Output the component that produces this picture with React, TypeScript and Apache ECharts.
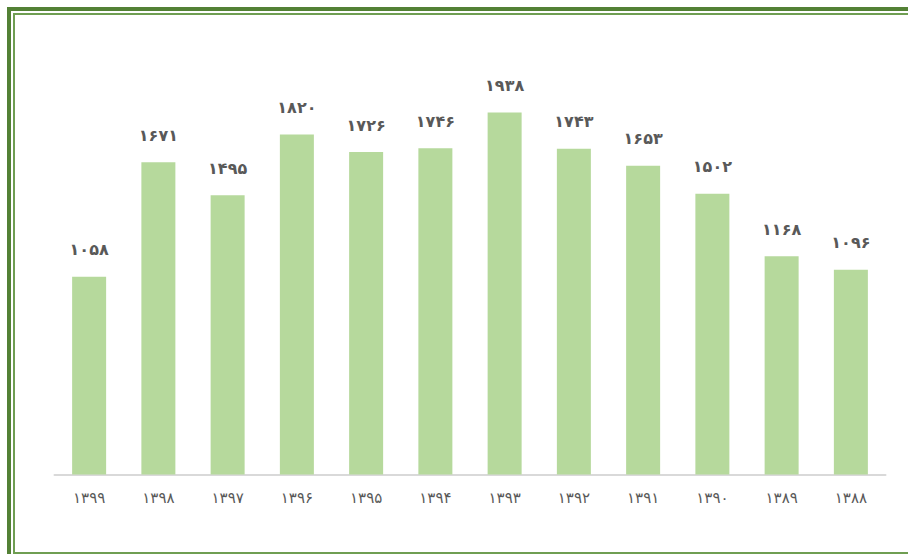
import React, { useEffect, useRef } from "react";
import * as echarts from "echarts";

const categories = ["1399", "1398", "1397", "1396", "1395", "1394", "1393", "1392", "1391", "1390", "1389", "1388"];
const values = [1058, 1671, 1495, 1820, 1726, 1746, 1938, 1743, 1653, 1502, 1168, 1096];

const fa = (s: string | number) =>
  String(s).replace(/[0-9]/g, (d) => "۰۱۲۳۴۵۶۷۸۹"[Number(d)]);

export default function App() {
  const ref = useRef<HTMLDivElement>(null);
  useEffect(() => {
    if (!ref.current) return;
    const chart = echarts.init(ref.current, undefined, { renderer: "svg" });
    chart.setOption({
      animation: false,
      backgroundColor: "#ffffff",
      grid: { left: 54.5, right: 22.5, top: 7.4, bottom: 79.5, containLabel: false },
      xAxis: {
        type: "category",
        data: categories,
        axisLine: { lineStyle: { color: "#d9d9d9", width: 2 } },
        axisTick: { show: false },
        axisLabel: {
          formatter: (v: string) => fa(v),
          color: "#595959",
          fontFamily: "DejaVu Sans",
          fontSize: 15,
          margin: 16,
        },
      },
      yAxis: {
        type: "value",
        min: 0,
        max: 2500,
        show: false,
        splitLine: { show: false },
      },
      series: [
        {
          type: "bar",
          data: values,
          barWidth: 34,
          itemStyle: { color: "#b6d99c" },
          label: {
            show: true,
            position: "top",
            distance: 19,
            formatter: (p: any) => fa(p.value),
            color: "#595959",
            fontWeight: "bold",
            fontFamily: "DejaVu Sans",
            fontSize: 16,
          },
        },
      ],
      graphic: [
        {
          type: "rect",
          shape: { x: 9, y: 9, width: 912, height: 562 },
          style: { fill: "none", stroke: "#538135", lineWidth: 4 },
          silent: true,
        },
        {
          type: "rect",
          shape: { x: 14, y: 14, width: 905, height: 539 },
          style: { fill: "none", stroke: "#6f9e52", lineWidth: 2 },
          silent: true,
        },
      ],
    });
    return () => chart.dispose();
  }, []);
  return (
    <div
      ref={ref}
      style={{ position: "absolute", left: 0, top: 0, width: 908, height: 554 }}
    />
  );
}
